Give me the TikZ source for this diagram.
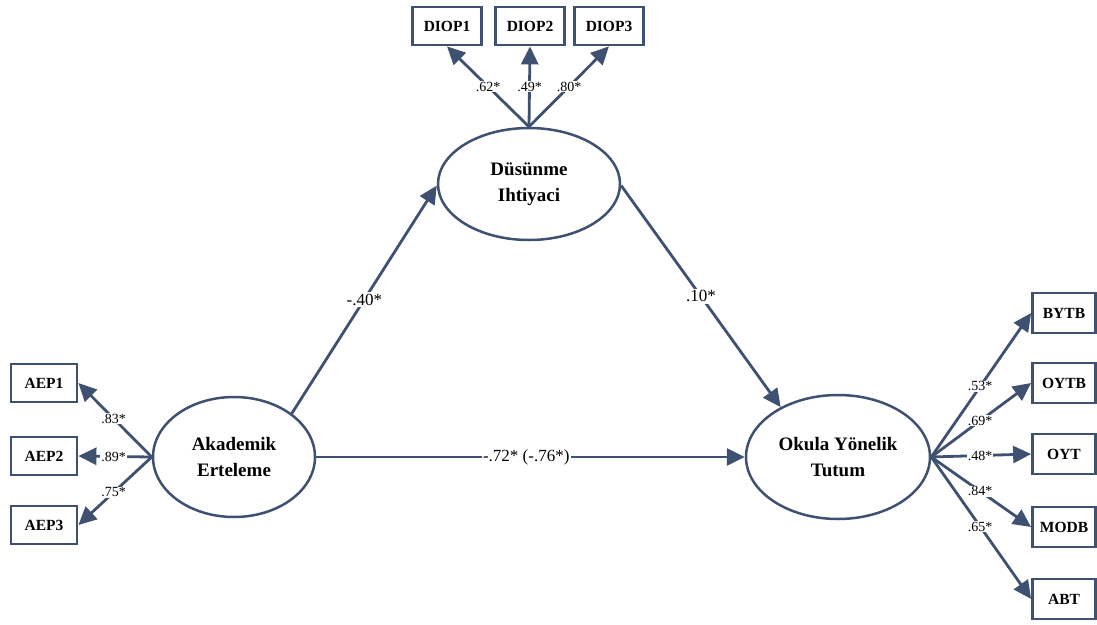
\documentclass[tikz,border=0pt]{standalone}
\usepackage{fontspec}
\setmainfont{Liberation Serif}
\usetikzlibrary{shapes.geometric,arrows.meta}
\definecolor{semc}{HTML}{3F5170}
\tikzset{
  obs/.style={draw=semc,line width=2.8pt,fill=white,rectangle,minimum height=38pt,inner sep=2pt,font=\fontsize{15.5}{17}\selectfont\bfseries},
  lat/.style={draw=semc,line width=2.5pt,fill=white,ellipse,inner sep=0pt,align=center,font=\fontsize{19}{26}\selectfont\bfseries},
  path/.style={draw=semc,line width=2.8pt,-{Triangle[length=18pt,width=17pt]}},
  lbl/.style={fill=white,inner sep=1pt,font=\fontsize{14}{16}\selectfont},
  mlbl/.style={fill=white,inner sep=1.5pt,font=\fontsize{17}{19}\selectfont}
}
\begin{document}
\begin{tikzpicture}[x=1pt,y=-1pt]
\useasboundingbox (0,0) rectangle (1097,624);
% latent variables
\node[lat,minimum width=182pt,minimum height=112pt] (dus) at (529,184) {Düsünme\\Ihtiyaci};
\node[lat,minimum width=162pt,minimum height=120pt] (aker) at (234,457) {Akademik\\Erteleme};
\node[lat,minimum width=184pt,minimum height=124pt] (okul) at (838,457) {Okula Yönelik\\Tutum};
% indicators
\node[obs,minimum width=69pt] (diop1) at (447,26) {DIOP1};
\node[obs,minimum width=69pt] (diop2) at (530,26) {DIOP2};
\node[obs,minimum width=69pt] (diop3) at (609,26) {DIOP3};
\node[obs,minimum width=66pt] (aep1) at (44,383) {AEP1};
\node[obs,minimum width=66pt] (aep2) at (44,456) {AEP2};
\node[obs,minimum width=66pt] (aep3) at (44,525) {AEP3};
\node[obs,minimum width=63pt,minimum height=40pt] (bytb) at (1064,313) {BYTB};
\node[obs,minimum width=63pt,minimum height=40pt] (oytb) at (1064,383) {OYTB};
\node[obs,minimum width=63pt,minimum height=40pt] (oyt) at (1064,454) {OYT};
\node[obs,minimum width=63pt,minimum height=40pt] (modb) at (1064,527) {MODB};
\node[obs,minimum width=63pt,minimum height=40pt] (abt) at (1064,599) {ABT};
% structural paths
\draw[path] (aker.37) -- node[mlbl,pos=0.5] {-.40*} (dus.181);
\draw[path] (dus.359) -- node[mlbl,pos=0.5] {.10*} (okul.139);
\draw[path] (aker.east) -- node[mlbl,pos=0.49] {-.72* (-.76*)} (okul.west);
% measurement paths
\draw[path] (dus.north) -- node[lbl,pos=0.5] {.62*} (diop1.south);
\draw[path] (dus.north) -- node[lbl,pos=0.5] {.49*} (diop2.south);
\draw[path] (dus.north) -- node[lbl,pos=0.5] {.80*} (diop3.south);
\draw[path] (aker.west) -- node[lbl,pos=0.52] {.83*} (aep1.east);
\draw[path] (aker.west) -- node[lbl,pos=0.52] {.89*} (aep2.east);
\draw[path] (aker.west) -- node[lbl,pos=0.52] {.75*} (aep3.east);
\draw[path] (okul.east) -- node[lbl,pos=0.49] {.53*} (bytb.west);
\draw[path] (okul.east) -- node[lbl,pos=0.49] {.69*} (oytb.west);
\draw[path] (okul.east) -- node[lbl,pos=0.49] {.48*} (oyt.west);
\draw[path] (okul.east) -- node[lbl,pos=0.49] {.84*} (modb.west);
\draw[path] (okul.east) -- node[lbl,pos=0.49] {.65*} (abt.west);
\end{tikzpicture}
\end{document}
